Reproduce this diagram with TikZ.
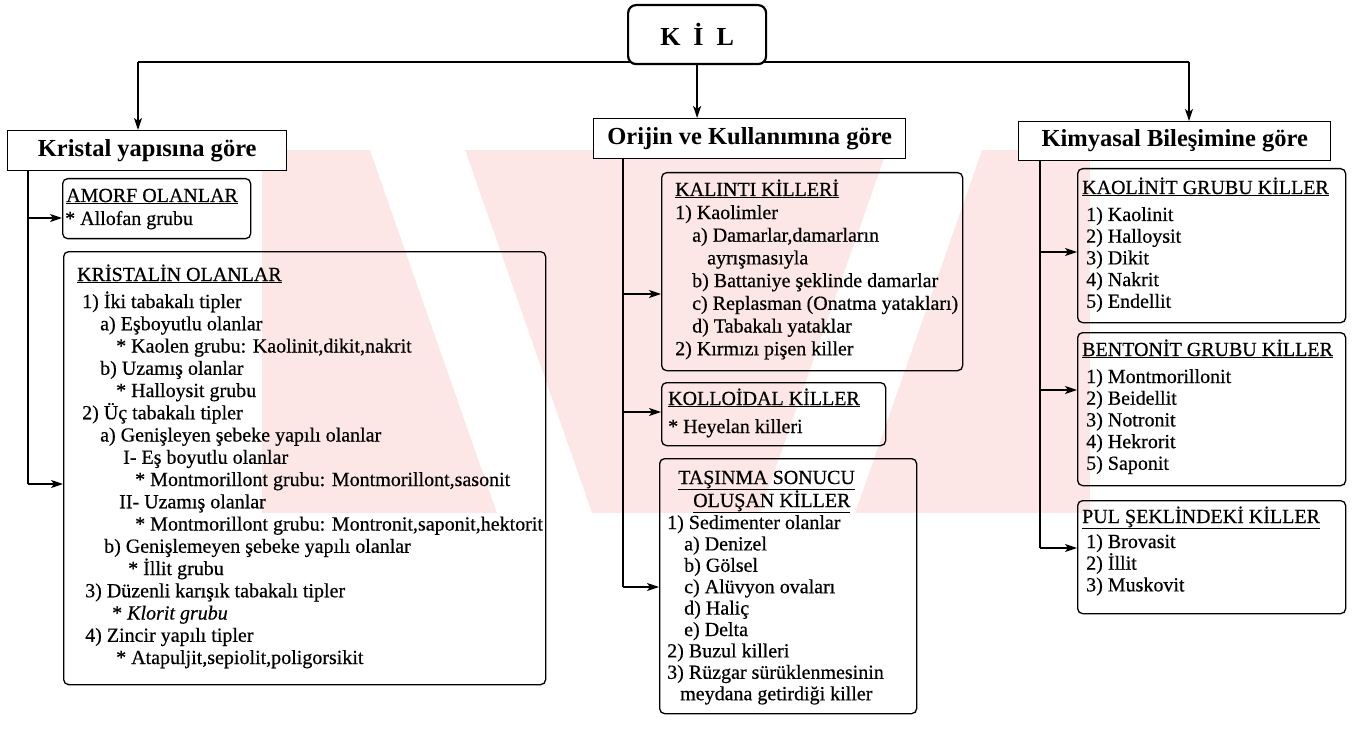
\documentclass[tikz,border=0pt]{standalone}
\usepackage{fontspec}
\setmainfont{Liberation Serif}
\newfontfamily\bodyfont[FakeBold=0.5]{Liberation Serif}
\usetikzlibrary{arrows.meta}
\definecolor{wm}{RGB}{252,230,230}
\tikzset{
  hdr/.style={draw, line width=1.4pt, fill=white, inner sep=0pt, font=\fontsize{24.5}{28}\selectfont\bfseries},
  kilbox/.style={draw, line width=2.2pt, rounded corners=8pt, fill=white, inner sep=0pt, font=\fontsize{26}{30}\selectfont\bfseries},
  cbox/.style={draw, line width=1.3pt, rounded corners=5pt, inner sep=0pt},
  txt/.style={inner sep=0pt, anchor=base west, font=\bodyfont\fontsize{20}{24}\selectfont},
  conn/.style={line width=1.3pt},
  arr/.style={line width=1.3pt, -{Stealth[length=12pt,width=8pt,inset=3pt]}},
}
\newcommand\bx[6]{\node[#6, anchor=north west, minimum width=#4pt-#2pt, minimum height=#5pt-#3pt] (#1) at (#2,#3) {};}
\newcommand\ttl[4]{\node[txt] (#1) at (#2,#3) {\underline{#4}};}
\newcommand\putlines[4]{%
  \foreach [count=\i] \xx/\ttt in {#4} {%
    \pgfmathsetmacro\yy{#2+(\i-1)*#3}
    \node[txt] (#1-\i) at (\xx,\yy) {\ttt};
  }}
\begin{document}
\begin{tikzpicture}[x=1pt,y=-1pt]
\useasboundingbox (0,0) rectangle (1360,738);
\fill[white] (0,0) rectangle (1360,738);

% faint watermark
\begin{scope}
\clip (262,150) rectangle (1090,513);
\fill[wm] (262,150) rectangle (1090,513);
\fill[white] (370,150) -- (465,150) -- (592,513) -- (497,513) -- cycle;
\fill[white] (887,150) -- (982,150) -- (855,513) -- (760,513) -- cycle;
\end{scope}

% top
\coordinate (tl) at (138,62);
\coordinate (tr) at (1189,62);
\draw[conn] (tl) -- (tr);
\node[kilbox, anchor=north west, minimum width=138pt, minimum height=59pt] (kil) at (627,4) {\raisebox{-3pt}{K\hspace{13pt}İ\hspace{13pt}L}};

% headers
\node[hdr, anchor=north west, minimum width=279pt, minimum height=40pt] (kristal) at (7,130) {Kristal yapısına göre};
\node[hdr, anchor=north west, minimum width=312pt, minimum height=40pt] (orijin) at (593,118) {Orijin ve Kullanımına göre};
\node[hdr, anchor=north west, minimum width=312pt, minimum height=39pt] (kimya) at (1018,121) {Kimyasal Bileşimine göre};

\draw[arr] (tl) -- (tl |- kristal.north);
\draw[arr] (kil.south) -- (kil.south |- orijin.north);
\draw[arr] (tr) -- (tr |- kimya.north);

% content boxes
\bx{amorf}{62}{178}{250}{238}{cbox}
\bx{kristalin}{63}{251}{545}{684}{cbox}
\bx{kalinti}{661}{172}{962}{370}{cbox}
\bx{kolloid}{661}{382}{885}{445}{cbox}
\bx{tasinma}{659}{458}{916}{713}{cbox}
\bx{kaolinit}{1077}{168}{1345}{322}{cbox}
\bx{bentonit}{1077}{332}{1345}{485}{cbox}
\bx{pul}{1077}{500}{1345}{613}{cbox}

% left connectors
\coordinate (la) at (28,218);
\coordinate (lb) at (28,484);
\draw[conn] (kristal.south -| la) -- (lb);
\draw[arr] (la) -- (la -| amorf.west);
\draw[arr] (lb) -- (lb -| kristalin.west);

% middle connectors
\coordinate (ma) at (623,294);
\coordinate (mb) at (623,412);
\coordinate (mc) at (623,587);
\draw[conn] (orijin.south -| ma) -- (mc);
\draw[arr] (ma) -- (ma -| kalinti.west);
\draw[arr] (mb) -- (mb -| kolloid.west);
\draw[arr] (mc) -- (mc -| tasinma.west);

% right connectors
\coordinate (ra) at (1040,252);
\coordinate (rb) at (1040,390);
\coordinate (rc) at (1040,548);
\draw[conn] (kimya.south -| ra) -- (rc);
\draw[arr] (ra) -- (ra -| kaolinit.west);
\draw[arr] (rb) -- (rb -| bentonit.west);
\draw[arr] (rc) -- (rc -| pul.west);

% texts
\ttl{amorf-t}{66}{202}{AMORF OLANLAR}
\node[txt] (amorf-1) at (65,225) {* Allofan grubu};

\ttl{kristalin-t}{77}{281}{KRİSTALİN OLANLAR}
\putlines{kristalin}{308}{22.25}{82/{1) İki tabakalı tipler},
 100/{a) Eşboyutlu olanlar},
 116/{* Kaolen grubu: Kaolinit,dikit,nakrit},
 100/{b) Uzamış olanlar},
 116/{* Halloysit grubu},
 82/{2) Üç tabakalı tipler},
 100/{a) Genişleyen şebeke yapılı olanlar},
 123/{I- Eş boyutlu olanlar},
 135/{* Montmorillont grubu: Montmorillont,sasonit},
 119/{II- Uzamış olanlar},
 135/{* Montmorillont grubu: Montronit,saponit,hektorit},
 104/{b) Genişlemeyen şebeke yapılı olanlar},
 128/{* İllit grubu},
 85/{3) Düzenli karışık tabakalı tipler},
 112/{* \textit{Klorit grubu}},
 85/{4) Zincir yapılı tipler},
 116/{* Atapuljit,sepiolit,poligorsikit}}

\ttl{kalinti-t}{675}{196}{KALINTI KİLLERİ}
\putlines{kalinti}{219}{22.7}{675/{1) Kaolimler},
 692/{a) Damarlar,damarların},
 707/{ayrışmasıyla},
 692/{b) Battaniye şeklinde damarlar},
 692/{c) Replasman (Onatma yatakları)},
 692/{d) Tabakalı yataklar},
 675/{2) Kırmızı pişen killer}}

\ttl{kolloid-t}{668}{405}{KOLLOİDAL KİLLER}
\node[txt] (kolloid-1) at (668,433) {* Heyelan killeri};

\ttl{tasinma-t}{678}{484}{TAŞINMA SONUCU}
\ttl{tasinma-u}{693}{507}{OLUŞAN KİLLER}
\putlines{tasinma}{529}{21.4}{667/{1) Sedimenter olanlar},
 684/{a) Denizel},
 684/{b) Gölsel},
 684/{c) Alüvyon ovaları},
 684/{d) Haliç},
 684/{e) Delta},
 667/{2) Buzul killeri},
 667/{3) Rüzgar sürüklenmesinin},
 680/{meydana getirdiği killer}}

\ttl{kaolinit-t}{1082}{194}{KAOLİNİT GRUBU KİLLER}
\putlines{kaolinit}{221}{21.7}{1086/{1) Kaolinit},1086/{2) Halloysit},1086/{3) Dikit},1086/{4) Nakrit},1086/{5) Endellit}}

\ttl{bentonit-t}{1082}{356}{BENTONİT GRUBU KİLLER}
\putlines{bentonit}{383}{21.7}{1086/{1) Montmorillonit},1086/{2) Beidellit},1086/{3) Notronit},1086/{4) Hekrorit},1086/{5) Saponit}}

\ttl{pul-t}{1082}{523}{PUL ŞEKLİNDEKİ KİLLER}
\putlines{pul}{548}{21.7}{1086/{1) Brovasit},1086/{2) İllit},1086/{3) Muskovit}}
\end{tikzpicture}
\end{document}
